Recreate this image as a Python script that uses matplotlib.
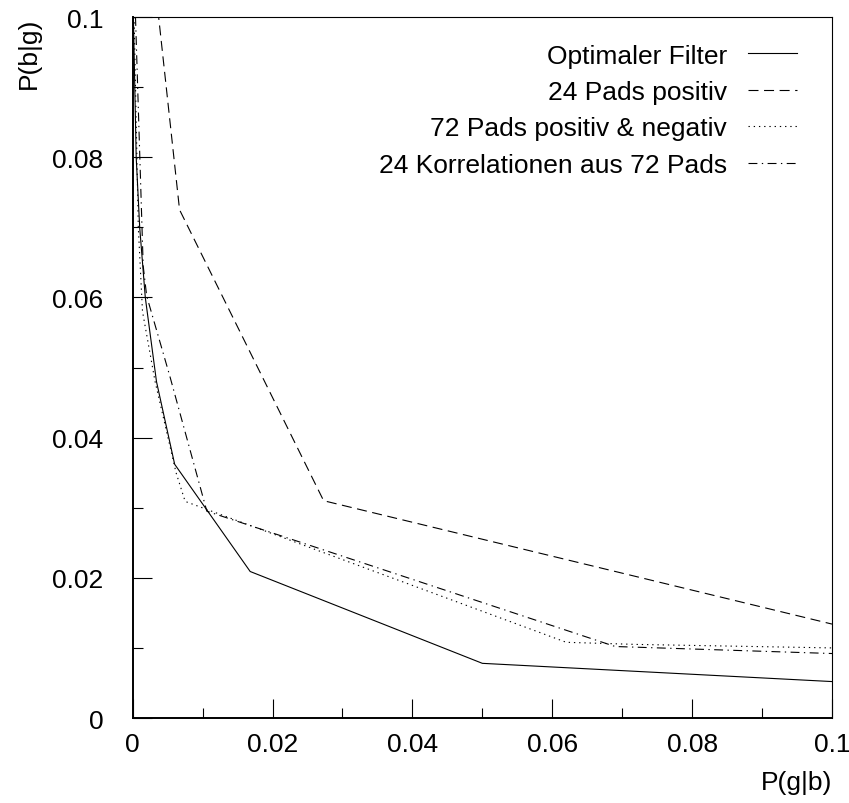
import matplotlib
matplotlib.use("Agg")
import matplotlib.pyplot as plt

plt.rcParams['font.family'] = ['Liberation Sans', 'DejaVu Sans']

# Kurvendaten P(g|b) -> P(b|g)
opt_x = [0.0001, 0.0005, 0.0010, 0.0018, 0.0034, 0.0060, 0.0168, 0.0500, 0.1000]
opt_y = [0.1000, 0.0800, 0.0700, 0.0600, 0.0480, 0.0362, 0.0209, 0.0078, 0.0052]

pos24_x = [0.0036, 0.0067, 0.0143, 0.0273, 0.1000]
pos24_y = [0.1010, 0.0725, 0.0572, 0.0310, 0.0134]

pn72_x = [0.0002, 0.0008, 0.0014, 0.0032, 0.0062, 0.0075, 0.0620, 0.0720, 0.1000]
pn72_y = [0.1000, 0.0700, 0.0580, 0.0480, 0.0350, 0.0309, 0.0108, 0.0105, 0.0100]

korr_x = [0.0004, 0.0015, 0.0020, 0.0053, 0.0106, 0.0690, 0.1000]
korr_y = [0.1000, 0.0645, 0.0602, 0.0488, 0.0295, 0.0102, 0.0092]

labels = ["Optimaler Filter", "24 Pads positiv",
          "72 Pads positiv & negativ", "24 Korrelationen aus 72 Pads"]

fig = plt.figure(figsize=(8.49, 8.04), dpi=100)
ax = fig.add_axes([0.1563, 0.1057, 0.8237, 0.8719])

lw = 0.8
ax.plot(opt_x, opt_y, color='black', lw=lw, label=labels[0])
ax.plot(pos24_x, pos24_y, color='black', lw=lw, dashes=(9, 5), label=labels[1])
ax.plot(pn72_x, pn72_y, color='black', lw=lw, dashes=(1.2, 3.5), label=labels[2])
ax.plot(korr_x, korr_y, color='black', lw=lw, dashes=(8, 4, 1.2, 4), label=labels[3])

ax.set_xlim(0, 0.1)
ax.set_ylim(0, 0.1)
ax.set_xticks([0, 0.02, 0.04, 0.06, 0.08, 0.1])
ax.set_xticklabels(['0', '0.02', '0.04', '0.06', '0.08', '0.1'])
ax.set_yticks([0, 0.02, 0.04, 0.06, 0.08, 0.1])
ax.set_yticklabels(['0', '0.02', '0.04', '0.06', '0.08', '0.1'])
ax.set_xticks([0.01, 0.03, 0.05, 0.07, 0.09], minor=True)
ax.set_yticks([0.01, 0.03, 0.05, 0.07, 0.09], minor=True)

ax.tick_params(which='both', direction='in', top=False, right=False, width=0.8)
ax.tick_params(which='major', length=14, labelsize=19)
ax.tick_params(which='minor', length=7)
ax.tick_params(axis='y', pad=21)
ax.tick_params(axis='x', pad=10)

for s in ['left', 'bottom']:
    ax.spines[s].set_linewidth(1.4)
for s in ['top', 'right']:
    ax.spines[s].set_linewidth(0.8)

ax.set_xlabel('P(g|b)', fontsize=19, loc='right', labelpad=10)
ax.set_ylabel('P(b|g)', fontsize=19, loc='top')
ax.yaxis.set_label_coords(-0.131, 1.0)

ax.legend(loc='upper right', bbox_to_anchor=(0.95, 0.962), frameon=False,
          markerfirst=False, alignment='right', fontsize=19,
          handlelength=1.85, handletextpad=0.8, labelspacing=0.47,
          borderpad=0, borderaxespad=0)

fig.savefig('out.png', dpi=100)
